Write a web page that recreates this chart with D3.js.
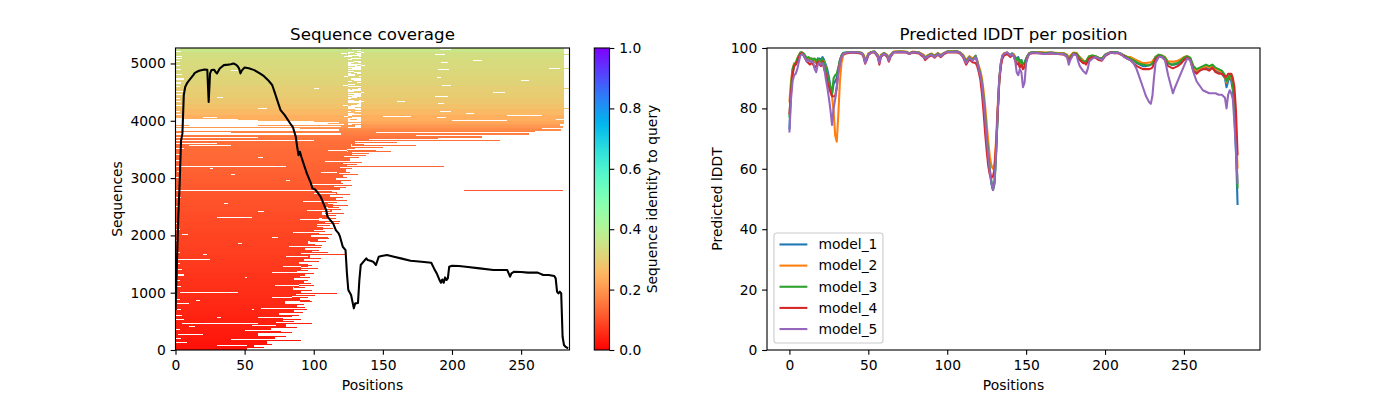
<!DOCTYPE html>
<html>
<head>
<meta charset="utf-8">
<script src="https://cdn.jsdelivr.net/npm/d3@7"></script>
<style>
  body { margin: 0; background: #fff; }
  svg { display: block; font-family: "DejaVu Sans", sans-serif; }
</style>
</head>
<body>
<svg id="chart" width="1400" height="400"></svg>
<script>
// ---------- MSA coverage (left panel) ----------
// blocks of sequences (row index ranges), sorted by identity, drawn from position 0
const blockEdges = [0,50,100,150,200,250,300,350,400,450,500,550,600,650,700,750,800,850,900,950,
  1000,1050,1100,1150,1200,1250,1300,1350,1400,1450,1500,1550,1600,1650,1700,1750,1800,1850,1900,1950,
  2000,2050,2100,2150,2200,2250,2300,2350,2400,2450,2500,2550,2600,2650,2700,2750,2800,2850,2900,2950,
  3000,3050,3100,3150,3200,3250,3300,3350,3400,3450,3500,3550,3600,
  3640,3660,3700,3730,3760,3790,3820,3850,3880,3910,3950,3990,
  4100,4200,4300,4400,4500,4600,4700,4800,4900,5000,5100,5200,5270];
const blockEnd = [52,57,66,61,72,60,76,69,80,73,78,84,75,86,81,88,79,90,84,87,
  91,85,89,93,86,90,94,88,91,96,89,93,97,91,99,94,101,96,103,98,
  104,100,107,102,108,104,110,106,113,108,114,110,116,112,117,113,119,115,120,116,
  121,118,123,119,124,121,126,122,128,124,130,127,
  130,235,140,222,174,256,145,279,265,280,278,281,
  281,281,281,281,281,281,281,281,281,281,281,281,281];
const blockIdentity = [0.02,0.022,0.025,0.027,0.03,0.032,0.034,0.036,0.038,0.04,0.041,0.043,0.045,0.046,0.048,0.05,0.051,0.053,0.055,0.056,
  0.058,0.06,0.061,0.063,0.064,0.066,0.067,0.069,0.07,0.072,0.073,0.075,0.076,0.078,0.079,0.08,0.082,0.083,0.085,0.086,
  0.088,0.089,0.09,0.092,0.093,0.095,0.096,0.098,0.1,0.101,0.103,0.104,0.106,0.108,0.11,0.111,0.113,0.115,0.117,0.119,
  0.121,0.123,0.125,0.127,0.129,0.131,0.133,0.135,0.137,0.138,0.139,0.14,
  0.14,0.145,0.15,0.155,0.16,0.165,0.17,0.18,0.19,0.2,0.21,0.225,
  0.24,0.26,0.275,0.285,0.295,0.3,0.31,0.315,0.32,0.325,0.33,0.34,0.36];

// single sequences reaching further than their block: [row, from, to]
const extraRows = [[160,55,91],[300,66,84],[450,60,99],[530,75,91],[650,80,92],[740,80,94],[860,85,97],[943,84,101],
  [977,84,117],[1075,86,94],[1150,86,98],[1250,88,97],[1380,88,96],[1470,90,99],[1657,90,123],[1730,93,104],
  [1820,95,106],[1890,97,109],[1960,97,110],[2065,99,108],[2160,99,112],[2240,104,119],[2340,104,116],[2443,108,120],
  [2560,108,117],[2650,111,121],[2775,209,280],[2820,111,123],[2900,114,121],[2996,114,124],[3080,117,126],[3198,80,194],
  [3227,117,131],[3343,121,133],[3414,123,140],[3448,125,156],[3520,125,150],[3558,128,174],[3575,128,136],[3620,130,160],
  [3680,140,190],[3720,140,174],[3745,174,235],[3800,145,230],[3810,145,260],
  [30,52,64],[90,57,70],[230,60,80],[380,69,88],[480,73,86],[590,75,89],[690,81,95],[790,79,93],[830,90,99],
  [910,84,96],[1030,85,99],[1120,89,100],[1200,86,96],[1320,88,100],[1420,91,103],[1530,89,104],[1590,93,105],
  [1690,91,110],[1780,94,105],[1930,98,111],[2010,100,113],[2110,102,114],[2200,104,118],[2280,106,116],[2380,108,122],
  [2480,110,118],[2520,110,125],[2600,112,124],[2700,113,126],[2860,115,128],[2950,116,127],[3050,118,132],[3150,119,128],
  [3270,121,135],[3380,122,138],[3470,124,145],[3530,127,140],
  [4040,125,128],[4150,127,130],[4260,125,127],[4340,129,133],[4450,125,129],[4530,126,128],[4620,130,134],
  [4720,125,127],[4810,127,131],[4900,125,128],[5000,129,132],[5080,125,127],[5160,126,130],[5240,125,128],
  [4580,125,134],[4480,125,134],[4130,125,134],[4010,126,131],[4090,128,134],[4190,125,130],[4300,125,133],
  [4380,127,134],[4420,125,128],[4500,129,134],[4650,125,131],[4680,128,134],[4770,125,133],[4850,129,134],
  [4940,125,130],[5040,125,134],[5120,128,133],[5200,125,131],[4230,130,134],[4700,125,129],[4990,127,134],
  [4060,125,134],[4110,129,134],[4170,125,134],[4280,125,131],[4360,125,134],[4400,131,134],[4550,125,132],
  [4600,125,134],[4640,128,134],[4740,125,134],[4790,130,134],[4830,125,129],[4870,125,134],[4960,131,134],
  [5020,125,129],[5060,128,134],[5100,125,134],[5140,125,131],[5180,129,134],[5220,125,134],[5255,126,134],
  [3900,125,130],[3930,128,134],[3960,125,134],
  [4200,281,285],[4550,281,285],[4900,281,285],[5150,281,285]];

// gapped stretches (white): [row, from, to]
const gapRows = [[2775,0,209],[3198,0,80],[1000,3,45],[1570,2,25],[445,5,60],[2300,30,55],[3560,10,40],[120,0,8],
  [200,0,4],[260,2,20],[350,0,3],[520,0,6],[600,0,5],[700,1,4],[800,1,10],[880,0,3],[1100,0,4],[1200,0,3],
  [1300,2,6],[1400,0,5],[1500,0,3],[1700,0,3],[1900,0,2],[2100,0,3],[2200,0,2],[2500,0,3],[2650,0,4],[3000,0,4],
  [3100,1,3],[3300,0,3],[3400,0,3],[3500,0,6],[1850,45,48],[2400,60,64],[3050,40,43],[700,55,57],
  [70,30,52],[180,40,66],[330,50,76],[420,55,73],[560,60,84],[720,62,81],[900,70,84],[1120,72,89],[1350,70,88],
  [1440,78,91],[1620,80,96],[1800,82,101],[2040,85,104],[2270,90,104],[2430,95,112],[2580,92,110],[2730,100,116],
  [2880,98,115],[3090,105,118],[3280,108,125],[3480,110,124],
  [1650,20,23],[2550,35,38],[1250,50,52],[550,30,33],[3350,60,63],[2950,80,83],[1950,70,74],[850,15,18],
  [3150,25,27],[2000,5,9],[400,10,14],
  [3600,0,30],[3640,0,100],[3700,0,60],[3760,0,120],[3790,5,40],[3830,0,118],[3860,0,90],[3890,0,120],
  [3905,10,60],[3925,0,122],[3945,0,110],[3965,0,118],[3980,0,100],[4000,0,60],[4020,0,45],[4045,20,30],
  [4050,189,196],[4150,191,199],[4300,190,194],[4420,188,197],[4600,193,199],[4750,189,192],[4880,190,198],
  [5000,192,197],[5150,188,195],[5230,191,199],[4100,0,4],[4250,0,5],[4380,0,3],[4500,0,6],[4650,0,4],
  [4800,0,5],[4950,0,3],[5080,0,5],[5200,0,4],[4120,210,216],[4480,230,238],[4700,250,256],[4900,270,278],
  [5050,215,222],[4330,160,166],[4560,100,104],[4200,60,66],[4860,40,45],[5170,120,124],[4400,30,34],
  [4020,275,281],[4060,150,170],[3995,200,240],[4080,240,265],
  [4150,0,3],[4320,0,4],[4450,0,5],[4590,0,3],[4720,0,6],[4880,0,4],[5020,0,3],[5120,0,5],[5250,0,3],[4030,0,5],
  [4070,122,125],[4320,134,136.5],[4610,121,125],[4950,134,137],[5110,122,125],[4480,134,136],[4760,122,125],
  [5190,134,136],[4250,121,125]];
// mostly gapped column: [rowFrom, rowTo, from, to]
const gapColumns = [[3880,5270,125,134]];

// number of aligned sequences per position
const coveragePos = [0,1,2,3,4,5,6,7,8,9,11,13,14,17,21,23,24,25,26,28,29,30,32,35,38,40,42,44,45,46,47,48,50,53,57,61,64,67,69,70,
  72,74,76,79,83,85,87,88,89,90,91,93,95,98,99,101,103,105,107,109,110,112,114,116,118,119,121,123,124,125,127,129,130,132,
  133,134,136,138,139,141,143,145,147,149,153,158,163,170,178,185,187,189,191,192,193,194,195,196,197,198,200,205,210,220,
  230,240,241,242,243,245,250,255,262,266,270,274,275,276,277,278,279,280,281,282,284];
const coverageCount = [700,1500,2300,2900,3650,3780,4450,4590,4640,4680,4740,4800,4837,4872,4895,4890,4330,4826,4884,4890,4850,4826,4913,4971,4980,4988,5000,4975,4950,4913,4826,4880,4930,4915,4884,4826,4779,4709,4651,4620,
  4477,4331,4186,4099,3953,3884,3721,3547,3401,3460,3372,3227,3081,2907,2820,2802,2740,2674,2558,2442,2326,2267,2209,2093,2035,1977,1802,1744,1337,1047,960,727,814,820,
  1221,1483,1541,1599,1570,1558,1541,1483,1628,1640,1657,1628,1599,1558,1541,1523,1424,1337,1221,1174,1230,1174,1267,1221,1250,1453,1471,1465,1453,1424,
  1395,1395,1337,1279,1337,1366,1360,1350,1350,1308,1308,1291,1250,1017,988,1017,988,232,87,60,29];

const covXTicks = [0,50,100,150,200,250];
const covYTicks = [0,1000,2000,3000,4000,5000];
const cbarTicks = [0,0.2,0.4,0.6,0.8,1.0];

// ---------- predicted lDDT (right panel) ----------
const positions = [0,1,2,3,4,5,6,7,8,9,10,11,
  12,13,14,15,16,17,18,19,20,21,22,23,
  24,25,26,27,28,29,30,31,32,33,34,
  36,40,44,46,47,48,49,50,52,54,56,57,
  58,60,62,63,64,66,70,74,76,78,82,85,
  86,88,90,92,94,96,98,100,104,106,108,110,
  112,114,116,118,119,120,121,122,123,124,125,126,
  127,128,129,130,131,132,133,134,135,136,138,140,
  141,142,143,144,145,146,147,148,149,150,151,152,
  154,158,162,166,170,174,176,177,178,180,182,183,
  184,186,187,188,189,190,192,194,196,198,200,202,
  204,206,208,210,212,214,216,218,220,222,224,226,
  228,229,230,231,232,234,236,238,240,242,243,244,
  246,248,250,252,254,256,258,260,262,264,266,268,
  270,272,274,276,277,278,279,280,281,282,283,284];
const model1 = [73,86,92,94,94.5,96,97.5,98.5,98.5,98,97,96,
  96.5,96,96.5,96,95.5,95,96.5,96.5,96,97,96,94.5,
  93,90.5,87,85,88,89,90,93,96,97.5,98.3,
  98.5,98.7,98.6,98.3,97.5,95.5,96.5,98,98.7,98.8,97.5,95.5,
  97.5,98.3,97.5,96,97.5,98.7,98.8,98.7,98.2,98.7,98.5,97.5,
  96.8,97.5,98,97.3,98.2,97.5,98.3,98.8,98.8,98.9,98.5,97.5,
  95.5,97,96,97.5,95.5,93.5,91.5,88,83,77,70,64,
  59,55,53,56,66,79,90,95,97.5,98,98.5,97.5,
  98.2,98,97,96.5,97,95.5,96,94.5,95,96.5,97.5,98.3,
  98.7,98.5,98.3,98.5,98.2,98,97.5,96,97,98.3,98.2,97,
  96.5,95.5,95.5,95.3,96,97,97.3,97,96.5,96,97.5,98.3,
  98.7,98.5,98.5,98.2,97.5,97,96.5,96,95,94.5,94,94,
  94.3,94.5,95,96,97,97.5,97.3,96.5,95,94.5,94.5,94.5,
  94.8,95.5,96.5,97,96.5,93.5,92,92.5,93,93.5,93,93.5,
  92.5,92,91.5,90,87,89,90.5,89,86,78,65,48];
const model2 = [82,89,93,95,95,96.5,97.5,98.5,98.5,98,97,96.5,
  96.5,96.5,96,96.5,95.5,95.5,96,95.5,95,96,95.5,93.5,
  91,88.5,86,84,79,71,69,78,89,95,97.5,
  98.5,98.7,98.6,98.4,97.8,96,97,98.2,98.7,98.8,97.8,96,
  97.7,98.4,97.7,96.3,97.7,98.8,98.9,98.8,98.3,98.8,98.6,97.8,
  97,97.7,98.2,97.5,98.3,97.7,98.4,98.9,98.9,99,98.6,97.8,
  96,97.3,96.5,97.3,96,94,92.5,90,86,81,75,69,
  64,61,60,62,70,81,90,95,97.5,98.3,98.5,97.5,
  98,98,97,95.5,96,94.5,95,93,93.5,96,97.5,98.3,
  98.7,98.7,98.5,98.5,98.3,98.3,97.8,96.5,97.5,98.5,98.3,97.5,
  97,96,95.5,95.5,96.5,97.3,97.5,97.3,96.8,96.5,97.8,98.3,
  98.7,98.5,98.5,98,97.5,97,97,96.5,96,95.5,95,95,
  95.2,95.3,95.5,96.3,97,97.5,97.5,97,95.5,95.5,95.5,95.5,
  95.8,96.3,97,97.3,96.5,93.5,92.5,93,93.5,94,93.5,94,
  93,92.5,92,90.5,88.5,90,91,90,88,84,73,60];
const model3 = [77,87,93,94.5,95,96.5,97.5,98.5,98.5,98.2,97.5,96.5,
  97,96.5,96.5,96,96.5,95.5,96.5,96,95.5,96.5,95,93.5,
  91,89.5,87,84.5,90,91,91.5,93.5,96,97.5,98.3,
  98.5,98.7,98.6,98.3,97.5,95.5,96.5,98,98.7,98.8,97.5,95.5,
  97.5,98.3,97.5,96,97.5,98.7,98.8,98.7,98.2,98.7,98.5,97.5,
  96.8,97.5,98,97.3,98.2,97.5,98.3,98.8,98.8,98.9,98.5,97.5,
  95.5,97,96,97.3,95.5,93.5,91.5,88.5,84,78,71,65,
  60,56,53,55,65,78,89,94.5,97,98,98.3,97.5,
  98.2,97.5,97,96,96.5,95,96,94.5,95,96.5,97.5,98.3,
  98.7,98.5,98.3,98.5,98.2,98.2,97.5,96,97,98.3,98.2,97.5,
  96.8,95.5,95.5,95.5,96.5,97.3,97.5,97.3,96.8,96.5,97.8,98.3,
  98.7,98.7,98.5,98,97.5,97,96.5,96,95.3,94.8,94.5,94.3,
  94.3,94.5,94.8,95.8,97,97.8,97.5,96.8,95,94.5,94.5,94.8,
  95,95.8,96.8,97.3,96.8,94,93,93.5,94,94.5,94,94.5,
  93.5,93,92.5,91,89,90,91,90.5,88,82,70,53.5];
const model4 = [78,85,91,94,94.5,95.5,97,98,98.3,97.5,96.5,95.5,
  95,94.5,95,94.5,93.5,94,95.5,94.5,94,95.5,93,91.5,
  89,87,85.5,84,84,84,87,92,95,97,98,
  98.2,98.5,98.3,98,97,94.8,96,97.6,98.5,98.5,97,94.5,
  97,98,97,95.5,97,98.5,98.6,98.5,98,98.5,98.2,97,
  96,97,97.6,96.8,97.8,97,98,98.5,98.5,98.6,98.2,97,
  94.5,96.3,95.3,95,94,92,89.5,85,79,72,66,61,
  58,57,57.5,60,68,79,89,94,96.5,97.5,98,97,
  97.5,97.5,96,94.5,95,93.5,94.5,93,94,95.5,97,98,
  98.3,98.3,98,98.2,98,97.8,97,95.5,96.5,98,97.8,96.5,
  96,95,95,94.5,95.5,96.5,97,96.8,96,95.8,97.3,98,
  98.5,98.3,98.3,97.8,97.3,96.5,96,95,94,93.5,93,93,
  93,93.2,93.5,94.8,96.3,97.2,97,96,94,93.5,93.3,93.5,
  94,94.8,96,96.8,96,92.5,91.5,92.5,93,93,92.5,93.5,
  92,91.5,91.5,90.5,90.5,91.5,91.5,91.5,90,87,79,64.5];
const model5 = [72,83,89,91,91.5,93,95.5,97.5,98,97.5,96.5,95.5,
  96,95.5,95.5,95.5,93,92,94.5,95,94.5,95,93.5,90,
  87,83.5,79.5,74.5,80,83,87,91.5,95,97,98,
  98.4,98.6,98.5,98.2,97.2,95,96.3,97.8,98.6,98.7,97.3,95,
  97.3,98.2,97.3,95.8,97.3,98.6,98.7,98.6,98.1,98.6,98.4,97.3,
  96.5,97.3,97.8,97,98,97.3,98.2,98.7,98.7,98.8,98.4,97.2,
  95,96.8,95.8,97,95.3,93,91,88,83,77,70,64,
  59,55.5,53,56,66,79,90,95,97.5,98,98.5,97.5,
  98,97.5,96,92,91,93,92,87,88.5,95,97,98,
  98.5,98.3,98,98.3,98,98,97,94.5,96,98,97.5,95.5,
  94,92.5,92,91.5,93,95.5,96.5,97,96.5,96,97.5,98.2,
  98.5,98.3,98.5,98,97,96.5,96,95,93,90,87,84,
  82,81.5,84,90,95,97,97,96,91,87,85,86.5,
  89,91.5,94,96.5,96,92,89,87.5,86,85.5,85,85,
  85,84.5,84.5,83.5,80,84.5,86,85,83,75,66,55];
const modelNames = ["model_1","model_2","model_3","model_4","model_5"];
const modelColors = ["#1f77b4","#ff7f0e","#2ca02c","#d62728","#9467bd"];
const plddtXTicks = [0,50,100,150,200,250];
const plddtYTicks = [0,20,40,60,80,100];

// ---------- layout ----------
const FS = 13.89, TITLE_FS = 16.67, TICK = 4.86, LW = 1.11;
const covBox = { left: 175.5, right: 569.5, top: 48, bottom: 350 };
const cbarBox = { left: 594.3, right: 609.5, top: 48, bottom: 350 };
const plBox = { left: 767, right: 1260, top: 48, bottom: 350 };
const nSeq = 5270, nPos = 285;

const svg = d3.select("#chart");

// matplotlib "rainbow" reversed
function rainbowR(v) {
  const x = 1 - v;
  const r = Math.max(0, Math.min(1, Math.abs(2 * x - 0.5)));
  const g = Math.sin(Math.PI * x);
  const b = Math.cos(Math.PI * x / 2);
  return d3.rgb(r * 255, g * 255, b * 255).toString();
}
const color = d3.scaleSequential(rainbowR).domain([0, 1]);

function styleAxis(g) {
  g.attr("font-size", FS).attr("font-family", "DejaVu Sans");
  g.select(".domain").remove();
  g.selectAll(".tick line").attr("stroke", "#000").attr("stroke-width", LW);
  g.selectAll(".tick text").attr("fill", "#000");
}

function frame(box) {
  svg.append("rect")
    .attr("x", box.left).attr("y", box.top)
    .attr("width", box.right - box.left).attr("height", box.bottom - box.top)
    .attr("fill", "none").attr("stroke", "#000").attr("stroke-width", LW);
}

function text(x, y, str, size, opts = {}) {
  const t = svg.append("text")
    .attr("x", x).attr("y", y)
    .attr("text-anchor", opts.anchor || "middle")
    .attr("font-size", size)
    .attr("fill", "#000")
    .text(str);
  if (opts.rotate) t.attr("transform", `rotate(-90,${x},${y})`).attr("dominant-baseline", "central");
  return t;
}

// ===== left panel: sequence coverage =====
const x = d3.scaleLinear().domain([0, nPos]).range([covBox.left, covBox.right]);
const y = d3.scaleLinear().domain([0, nSeq]).range([covBox.bottom, covBox.top]);

svg.append("clipPath").attr("id", "covClip")
  .append("rect")
  .attr("x", covBox.left).attr("y", covBox.top)
  .attr("width", covBox.right - covBox.left).attr("height", covBox.bottom - covBox.top);

const heat = svg.append("g").attr("clip-path", "url(#covClip)").attr("shape-rendering", "crispEdges");

const blocks = blockEnd.map((e, i) => ({ n0: blockEdges[i], n1: blockEdges[i + 1], end: e, id: blockIdentity[i] }));
heat.append("g").selectAll("rect")
  .data(blocks)
  .enter()
  .append("rect")
  .attr("x", x(0))
  .attr("y", (d) => y(d.n1))
  .attr("width", (d) => x(d.end) - x(0))
  .attr("height", (d) => y(d.n0) - y(d.n1))
  .attr("fill", (d) => color(d.id));

const rowH = 18; // about one screen pixel worth of sequences
heat.append("g").selectAll("rect")
  .data(gapColumns)
  .enter()
  .append("rect")
  .attr("x", (d) => x(d[2]))
  .attr("y", (d) => y(d[1]))
  .attr("width", (d) => x(d[3]) - x(d[2]))
  .attr("height", (d) => y(d[0]) - y(d[1]))
  .attr("fill", "#fff");

heat.append("g").selectAll("rect")
  .data(gapRows)
  .enter()
  .append("rect")
  .attr("x", (d) => x(d[1]))
  .attr("y", (d) => y(d[0] + rowH))
  .attr("width", (d) => x(d[2]) - x(d[1]))
  .attr("height", (d) => y(d[0]) - y(d[0] + rowH))
  .attr("fill", "#fff");

const identityOf = (n) => blockIdentity[Math.max(0, Math.min(blockIdentity.length - 1, d3.bisectRight(blockEdges, n) - 1))];
heat.append("g").selectAll("rect")
  .data(extraRows)
  .enter()
  .append("rect")
  .attr("x", (d) => x(d[1]))
  .attr("y", (d) => y(d[0] + rowH))
  .attr("width", (d) => x(d[2]) - x(d[1]))
  .attr("height", (d) => y(d[0]) - y(d[0] + rowH))
  .attr("fill", (d) => color(identityOf(d[0])));

// coverage line
svg.append("path")
  .datum(coveragePos.map((p, i) => [p, coverageCount[i]]))
  .attr("clip-path", "url(#covClip)")
  .attr("fill", "none")
  .attr("stroke", "#000")
  .attr("stroke-width", 2.08)
  .attr("stroke-linejoin", "round")
  .attr("d", d3.line().x((d) => x(d[0])).y((d) => y(d[1])));

frame(covBox);

svg.append("g")
  .attr("transform", `translate(0,${covBox.bottom})`)
  .call(d3.axisBottom(x).tickValues(covXTicks).tickFormat(d3.format("d")).tickSize(TICK).tickPadding(TICK))
  .call(styleAxis);
svg.append("g")
  .attr("transform", `translate(${covBox.left},0)`)
  .call(d3.axisLeft(y).tickValues(covYTicks).tickFormat(d3.format("d")).tickSize(TICK).tickPadding(TICK))
  .call(styleAxis);

text((covBox.left + covBox.right) / 2, 39.7, "Sequence coverage", TITLE_FS);
text((covBox.left + covBox.right) / 2, 390, "Positions", FS);
text(117, (covBox.top + covBox.bottom) / 2, "Sequences", FS, { rotate: true });

// ===== colorbar =====
const cbarY = d3.scaleLinear().domain([0, 1]).range([cbarBox.bottom, cbarBox.top]);
const grad = svg.append("defs").append("linearGradient")
  .attr("id", "cbarGrad")
  .attr("x1", 0).attr("y1", 1).attr("x2", 0).attr("y2", 0);
grad.selectAll("stop")
  .data(d3.range(0, 1.0001, 0.02))
  .enter()
  .append("stop")
  .attr("offset", (d) => d)
  .attr("stop-color", (d) => color(d));
svg.append("rect")
  .attr("x", cbarBox.left).attr("y", cbarBox.top)
  .attr("width", cbarBox.right - cbarBox.left).attr("height", cbarBox.bottom - cbarBox.top)
  .attr("fill", "url(#cbarGrad)");
frame(cbarBox);
svg.append("g")
  .attr("transform", `translate(${cbarBox.right},0)`)
  .call(d3.axisRight(cbarY).tickValues(cbarTicks).tickFormat(d3.format(".1f")).tickSize(TICK).tickPadding(TICK))
  .call(styleAxis);
text(652, (cbarBox.top + cbarBox.bottom) / 2, "Sequence identity to query", FS, { rotate: true });

// ===== right panel: predicted lDDT =====
const px = d3.scaleLinear().domain([-14.2, 298.2]).range([plBox.left, plBox.right]);
const py = d3.scaleLinear().domain([0, 100]).range([plBox.bottom, plBox.top]);

svg.append("clipPath").attr("id", "plClip")
  .append("rect")
  .attr("x", plBox.left).attr("y", plBox.top)
  .attr("width", plBox.right - plBox.left).attr("height", plBox.bottom - plBox.top);

const models = [model1, model2, model3, model4, model5];
const line = d3.line().x((d) => px(d[0])).y((d) => py(d[1]));
svg.append("g")
  .attr("clip-path", "url(#plClip)")
  .selectAll("path")
  .data(models)
  .enter()
  .append("path")
  .attr("fill", "none")
  .attr("stroke", (d, i) => modelColors[i])
  .attr("stroke-width", 2.08)
  .attr("stroke-linejoin", "round")
  .attr("d", (vals) => line(positions.map((p, j) => [p, vals[j]])));

frame(plBox);
svg.append("g")
  .attr("transform", `translate(0,${plBox.bottom})`)
  .call(d3.axisBottom(px).tickValues(plddtXTicks).tickFormat(d3.format("d")).tickSize(TICK).tickPadding(TICK))
  .call(styleAxis);
svg.append("g")
  .attr("transform", `translate(${plBox.left},0)`)
  .call(d3.axisLeft(py).tickValues(plddtYTicks).tickFormat(d3.format("d")).tickSize(TICK).tickPadding(TICK))
  .call(styleAxis);

text((plBox.left + plBox.right) / 2, 39.7, "Predicted lDDT per position", TITLE_FS);
text((plBox.left + plBox.right) / 2, 390, "Positions", FS);
text(717, (plBox.top + plBox.bottom) / 2, "Predicted lDDT", FS, { rotate: true });

// legend (lower left)
const legend = svg.append("g").attr("transform", `translate(${plBox.left + 6.94},${plBox.bottom - 6.94 - 110})`);
legend.append("rect")
  .attr("width", 109).attr("height", 110)
  .attr("rx", 2.8)
  .attr("fill", "#fff").attr("fill-opacity", 0.8)
  .attr("stroke", "#cccccc").attr("stroke-width", LW);
legend.selectAll("g")
  .data(modelNames)
  .enter()
  .append("g")
  .attr("transform", (d, i) => `translate(0,${11.4 + i * 21.15})`)
  .each(function (d, i) {
    const g = d3.select(this);
    g.append("line")
      .attr("x1", 5.56).attr("x2", 33.4)
      .attr("stroke", modelColors[i]).attr("stroke-width", 2.08);
    g.append("text")
      .attr("x", 44.5).attr("dy", "0.35em")
      .attr("font-size", FS).attr("fill", "#000")
      .text(d);
  });
</script>
</body>
</html>
